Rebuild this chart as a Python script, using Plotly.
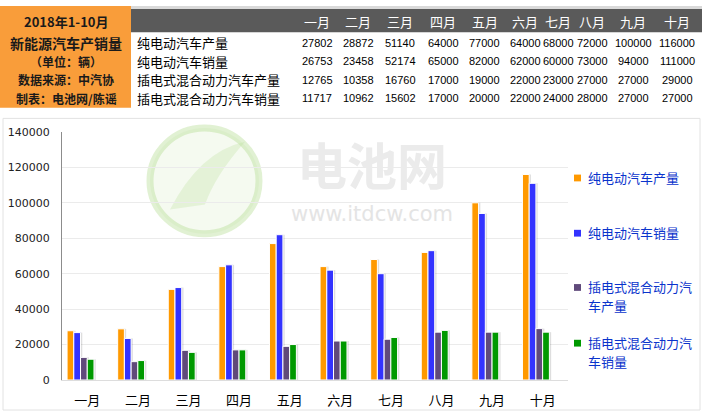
import plotly.graph_objects as go

# ---------------- data ----------------
months = ["一月", "二月", "三月", "四月", "五月", "六月", "七月", "八月", "九月", "十月"]
series_names = ["纯电动汽车产量", "纯电动汽车销量", "插电式混合动力汽车产量", "插电式混合动力汽车销量"]
bev_production = [27802, 28872, 51140, 64000, 77000, 64000, 68000, 72000, 100000, 116000]
bev_sales = [26753, 23458, 52174, 65000, 82000, 62000, 60000, 73000, 94000, 111000]
phev_production = [12765, 10358, 16760, 17000, 19000, 22000, 23000, 27000, 27000, 29000]
phev_sales = [11717, 10962, 15602, 17000, 20000, 22000, 24000, 28000, 27000, 27000]
title_lines = ["2018年1-10月", "新能源汽车产销量", "（单位：辆）", "数据来源：中汽协", "制表：电池网/陈谣"]
legend_lines = [["纯电动汽车产量"], ["纯电动汽车销量"],
                ["插电式混合动力汽", "车产量"], ["插电式混合动力汽", "车销量"]]
y_ticks = [0, 20000, 40000, 60000, 80000, 100000, 120000, 140000]

series_values = [bev_production, bev_sales, phev_production, phev_sales]
colors = ["#FF9900", "#3333FF", "#604A7B", "#009900"]

W, H = 702, 418
CJK = "Noto Sans CJK SC"


def px(x):
    return x / W


def py(y):
    return 1 - y / H


fig = go.Figure()

# bars (with a soft shadow drawn behind each bar)
bar_w = 0.133
offsets = [-0.40, -0.267, -0.134, -0.001]
for name, vals, off in zip(series_names, series_values, offsets):
    fig.add_trace(go.Bar(
        x=months, y=vals, name=name + " shadow",
        marker=dict(color="rgba(0,0,0,0.13)", line=dict(width=0)),
        width=bar_w, offset=off + 0.035, showlegend=False, hoverinfo="skip",
    ))
for name, vals, col, off in zip(series_names, series_values, colors, offsets):
    fig.add_trace(go.Bar(
        x=months, y=vals, name=name,
        marker=dict(color=col, line=dict(color="white", width=1)),
        width=bar_w, offset=off, showlegend=False,
    ))

shapes = []
annotations = []

# chart panel border
shapes.append(dict(type="rect", xref="paper", yref="paper",
                   x0=px(3), x1=px(700), y0=py(417), y1=py(116),
                   line=dict(color="#e2e2e2", width=1), fillcolor="rgba(0,0,0,0)", layer="below"))

# watermark logo circle
shapes.append(dict(type="circle", xref="paper", yref="paper",
                   x0=px(150), x1=px(259), y0=py(235), y1=py(126),
                   line=dict(color="rgba(170,215,130,0.35)", width=7),
                   fillcolor="rgba(200,230,170,0.18)", layer="below"))
shapes.append(dict(type="path", xref="paper", yref="paper",
                   path=f"M {px(170)},{py(210)} Q {px(200)},{py(150)} {px(245)},{py(140)} "
                        f"Q {px(215)},{py(175)} {px(205)},{py(205)} Z",
                   line=dict(width=0), fillcolor="rgba(190,225,160,0.30)", layer="below"))
annotations.append(dict(xref="paper", yref="paper", x=px(372), y=py(162), text="<b>电池网</b>",
                        showarrow=False, xanchor="center", yanchor="middle",
                        font=dict(family=CJK, size=50, color="#ebebeb")))
annotations.append(dict(xref="paper", yref="paper", x=px(372), y=py(215), text="www.itdcw.com",
                        showarrow=False, xanchor="center", yanchor="middle",
                        font=dict(family="DejaVu Sans", size=21, color="#e4e4e4")))

# ---------------- table ----------------
shapes.append(dict(type="rect", xref="paper", yref="paper", x0=px(131), x1=px(702), y0=py(3), y1=py(0),
                   line=dict(width=0), fillcolor="#d9d9d9"))
shapes.append(dict(type="rect", xref="paper", yref="paper", x0=px(0), x1=px(131), y0=py(105), y1=py(0),
                   line=dict(width=0), fillcolor="#F99D3A"))
shapes.append(dict(type="rect", xref="paper", yref="paper", x0=px(131), x1=px(702), y0=py(27), y1=py(3),
                   line=dict(width=0), fillcolor="#5a5a5a"))

title_y = [16, 38, 57, 76, 95]
title_sizes = [13, 14, 12, 12, 12]
for t, yy, sz in zip(title_lines, title_y, title_sizes):
    annotations.append(dict(xref="paper", yref="paper", x=px(66), y=py(yy), text=f"<b>{t}</b>",
                            showarrow=False, xanchor="center", yanchor="middle",
                            font=dict(family=CJK, size=sz, color="#1a1a1a")))

col_x = [317, 358, 400, 443, 485, 525, 558, 592, 633, 677]
for m, cx in zip(months, col_x):
    annotations.append(dict(xref="paper", yref="paper", x=px(cx), y=py(16), text=m,
                            showarrow=False, xanchor="center", yanchor="middle",
                            font=dict(family=CJK, size=13, color="white")))

row_y = [38, 57, 76, 95]
for name, vals, ry in zip(series_names, series_values, row_y):
    annotations.append(dict(xref="paper", yref="paper", x=px(135), y=py(ry), text=name,
                            showarrow=False, xanchor="left", yanchor="middle",
                            font=dict(family=CJK, size=13, color="black")))
    for v, cx in zip(vals, col_x):
        annotations.append(dict(xref="paper", yref="paper", x=px(cx), y=py(ry), text=str(v),
                                showarrow=False, xanchor="center", yanchor="middle",
                                font=dict(family="Liberation Sans", size=11, color="black")))

# ---------------- manual legend ----------------
leg_y = [177, 234, 290, 347.5]
for lines, col, ly in zip(legend_lines, colors, leg_y):
    shapes.append(dict(type="rect", xref="paper", yref="paper",
                       x0=px(574), x1=px(581), y0=py(ly + 4), y1=py(ly - 3),
                       line=dict(width=0), fillcolor=col))
    for i, ln in enumerate(lines):
        annotations.append(dict(xref="paper", yref="paper", x=px(586), y=py(ly + 19 * i), text=ln,
                                showarrow=False, xanchor="left", yanchor="middle", align="left",
                                font=dict(family=CJK, size=13, color="#0a33cc")))

fig.update_layout(
    width=W, height=H,
    margin=dict(l=0, r=0, t=0, b=0),
    paper_bgcolor="white", plot_bgcolor="white",
    barmode="overlay",
    shapes=shapes, annotations=annotations,
    xaxis=dict(domain=[px(62), px(568)], type="category", showgrid=False,
               showline=True, linecolor="#dddddd", linewidth=1, ticks="",
               tickfont=dict(family=CJK, size=13, color="black"), ticklabelstandoff=8),
    yaxis=dict(domain=[py(386), py(130)], range=[0, 140000], tickvals=y_ticks, tickformat="d",
               showgrid=True, gridcolor="#ebebeb", gridwidth=1, zeroline=False,
               showline=True, linecolor="#8c8c8c", linewidth=1, ticks="",
               tickfont=dict(family="DejaVu Sans", size=11, color="#222"), ticklabelstandoff=9),
    font=dict(family=CJK),
)

fig.write_html("out.html", config={"displayModeBar": False},
               post_script="document.body.style.margin='0';document.body.style.overflow='hidden';")
